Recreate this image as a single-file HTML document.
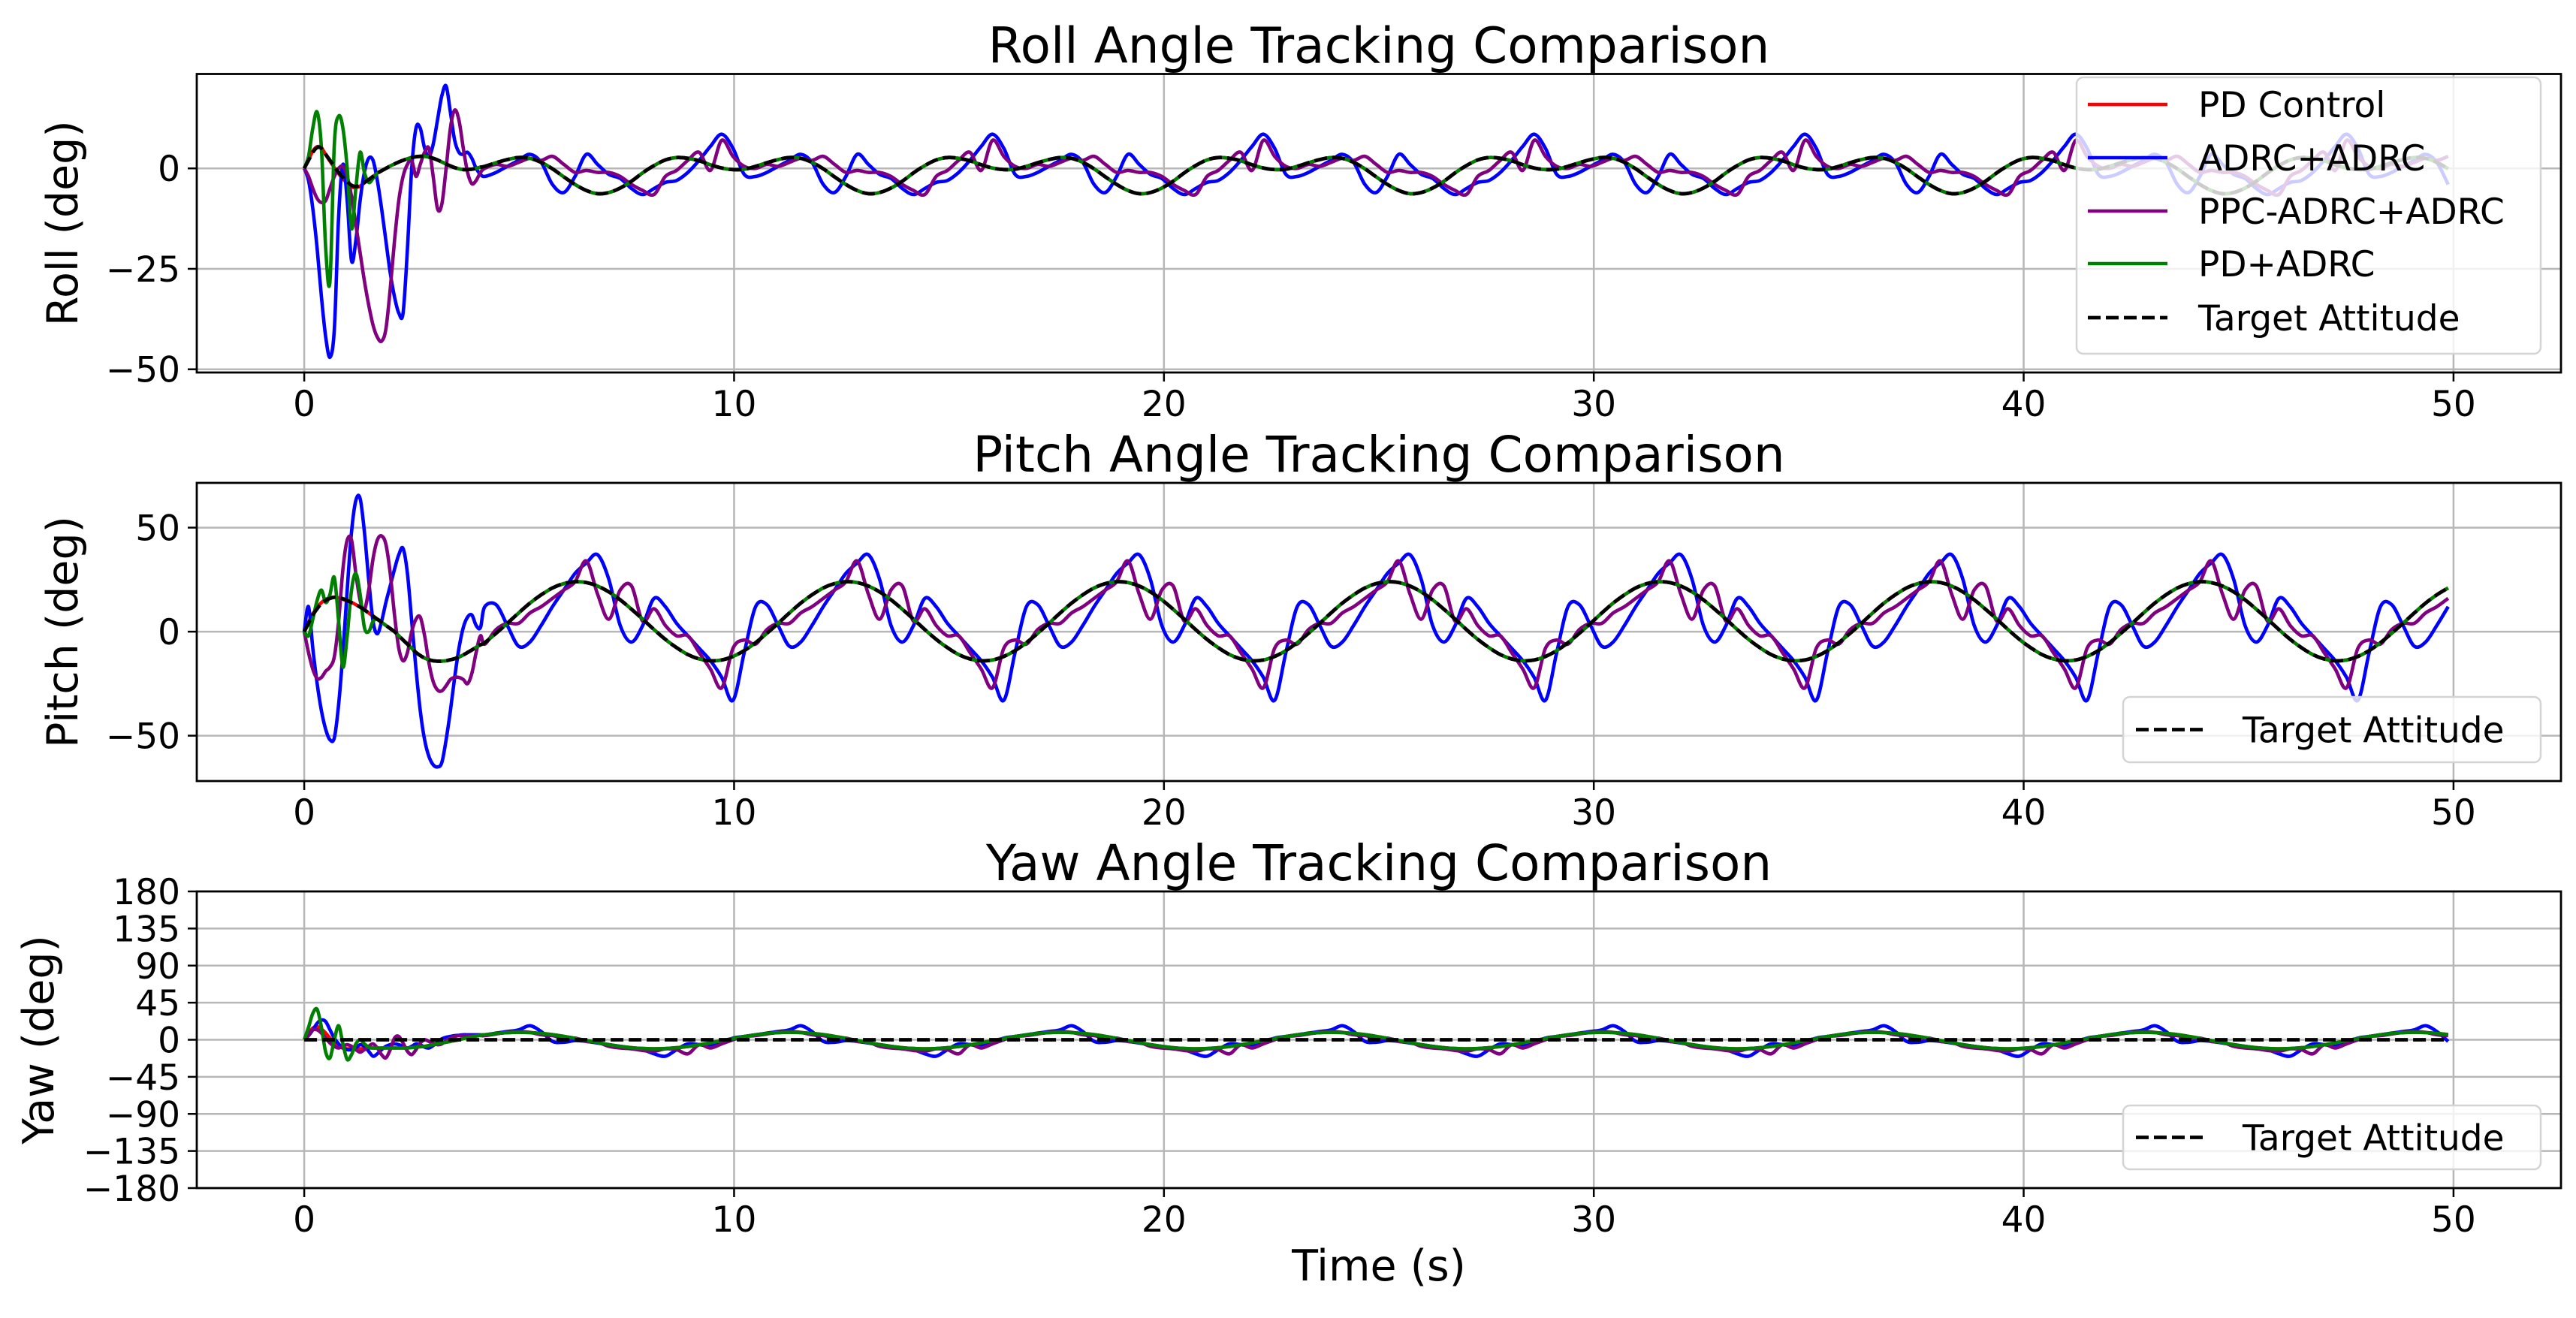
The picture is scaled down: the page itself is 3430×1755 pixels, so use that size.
<!DOCTYPE html>
<html><head><meta charset="utf-8"><title>Attitude Tracking Comparison</title>
<style>
html,body{margin:0;padding:0;background:#fff;}
svg{display:block;font-family:"DejaVu Sans","Liberation Sans",sans-serif;}
</style></head>
<body>
<svg id="fig" width="3430" height="1755" viewBox="0 0 3430 1755" xmlns="http://www.w3.org/2000/svg">
<rect x="0" y="0" width="3430" height="1755" fill="#fff"/>
</svg>
<script>
// ---------- data ----------
const xTicks = [0, 10, 20, 30, 40, 50];
const xTickLabels = ["0", "10", "20", "30", "40", "50"];
const rollYTicks = [-50, -25, 0];
const rollYTickLabels = ["\u221250", "\u221225", "0"];
const pitchYTicks = [-50, 0, 50];
const pitchYTickLabels = ["\u221250", "0", "50"];
const yawYTicks = [-180, -135, -90, -45, 0, 45, 90, 135, 180];
const yawYTickLabels = ["\u2212180", "\u2212135", "\u221290", "\u221245", "0", "45", "90", "135", "180"];
const seriesNames = ["PD Control", "ADRC+ADRC", "PPC-ADRC+ADRC", "PD+ADRC", "Target Attitude"];

// transient sample times (s)
const transientTimes = [0,0.1,0.2,0.3,0.4,0.5,0.6,0.7,0.8,0.9,1.0,1.1,1.2,1.3,1.4,1.5,1.6,1.7,1.8,1.9,2.0,2.1,2.2,2.3,2.4,2.5,2.6,2.7,2.8,2.9,3.0,3.1,3.2,3.3,3.4,3.5,3.6,3.7,3.8,3.9,4.0,4.1];
// steady-state: one period (6.3 s) sampled every 0.2625 s starting at 4.2 s
const steadyStart = 4.2;
const steadyStep = 0.2625;
const endTime = 50;

// ROLL
const rollTargetTransient = [0,2,4,5.2,5,3.5,2,0.5,-1,-2.2,-3.3,-4.2,-4.5,-4.2,-3.5,-2.8,-2,-1.2,-0.6,0,0.6,1.1,1.6,2,2.4,2.7,2.9,3,3,2.8,2.5,2.1,1.6,1.1,0.6,0.2,-0.1,-0.3,-0.3,-0.2,0,0.3];
const rollTargetPeriod = [0.5,1.4,2.2,2.7,2.5,1.5,-0.1,-2.1,-4.0,-5.5,-6.3,-6.0,-4.9,-3.2,-1.1,0.7,2.1,2.7,2.5,1.9,0.9,0.1,-0.3,-0.2];
const rollPdTransient = [0,2.2,4.3,5.4,5.1,3.4,1.8,0.2,-1.3,-2.6,-3.7,-4.6,-4.8,-4.4,-3.6,-2.8,-2,-1.2,-0.6,0,0.6,1.1,1.6,2,2.4,2.7,2.9,3,3,2.8,2.5,2.1,1.6,1.1,0.6,0.2,-0.1,-0.3,-0.3,-0.2,0,0.3];
const rollPdPeriod = [0.5,1.4,2.2,2.7,2.5,1.5,-0.1,-2.1,-4.0,-5.5,-6.3,-6.0,-4.9,-3.2,-1.1,0.7,2.1,2.7,2.5,1.9,0.9,0.1,-0.3,-0.2];
const rollAdrcTransient = [0,-3,-10,-20,-32,-42,-47,-40,-12,1,-8,-23,-18,-8,-1,2.5,2,-3,-10,-18,-26,-32,-36,-36,-20,0,10,10,5,3,6,12,18,20.5,14,7,4,3.5,4,2.5,0,-1.5];
const rollAdrcPeriod = [-2,-1,0.5,2,3.5,1.5,-4,-6,-2,3.5,1,-1.5,-2.5,-5,-6.5,-5,-3.5,-3,-1,2,5.5,8.5,5,-1.5];
const rollPpcTransient = [0,-2,-5,-7.5,-8.5,-8,-5,-2,0,0.5,-2,-7,-14,-21,-28,-34,-39,-42,-43,-40,-30,-18,-8,-2,1,2,-2,1,4,5,-2,-10,-9,0,10,14.5,12,5,-1,-3.8,-3,-1];
const rollPpcPeriod = [0,1,0.5,1.5,2.5,2,3,1,-1,-0.5,-1,-1,-2,-4,-5.5,-6.5,-2,-0.5,2,4,-0.5,7,3,0.5];
const rollPdAdrcTransient = [0,3,10,14,5,-20,-28,6,13,10,0,-15,-5,4,-1,-3.5,-2.5,-1.2,-0.6,0,0.6,1.1,1.6,2,2.4,2.7,2.9,3,3,2.8,2.5,2.1,1.6,1.1,0.6,0.2,-0.1,-0.3,-0.3,-0.2,0,0.3];
const rollPdAdrcPeriod = [0.5,1.4,2.2,2.7,2.5,1.5,-0.1,-2.1,-4.0,-5.5,-6.3,-6.0,-4.9,-3.2,-1.1,0.7,2.1,2.7,2.5,1.9,0.9,0.1,-0.3,-0.2];

// PITCH
const pitchTargetTransient = [0,4,8,11,13.5,15,16,16.5,16.3,15.8,15,14,13,11.8,10.5,9,7.5,6,4.5,3,1.5,0,-2,-4,-6,-8,-10,-11.5,-12.7,-13.5,-14,-14.2,-14.2,-14,-13.5,-13,-12.2,-11.2,-10,-8.8,-7.5,-6.3];
const pitchTargetPeriod = [-5.3,-0.8,4.0,9.0,13.7,17.7,21.0,23.1,24.0,23.6,21.9,19.1,15.3,10.8,6.0,1.0,-3.7,-7.7,-11.0,-13.1,-14.0,-13.6,-11.9,-9.1];
const pitchPdTransient = [0,4.5,8.5,11.5,14,15.5,16.3,16.6,16.2,15.6,14.8,14,13,11.8,10.5,9,7.5,6,4.5,3,1.5,0,-2,-4,-6,-8,-10,-11.5,-12.7,-13.5,-14,-14.2,-14.2,-14,-13.5,-13,-12.2,-11.2,-10,-8.8,-7.5,-6.3];
const pitchPdPeriod = [-5.3,-0.8,4.0,9.0,13.7,17.7,21.0,23.1,24.0,23.6,21.9,19.1,15.3,10.8,6.0,1.0,-3.7,-7.7,-11.0,-13.1,-14.0,-13.6,-11.9,-9.1];
const pitchAdrcTransient = [0,12,-8,-25,-38,-47,-52,-51,-35,-10,20,48,63,64,48,25,5,-1,5,14,22,30,37,40,28,5,-18,-38,-52,-60,-64,-65,-63,-52,-38,-22,-8,2,7,8,3,2];
const pitchAdrcPeriod = [12,13,3,-7,-5,3,12,20,28,33,37,25,3,-5,3,16,12,4,-2,-8,-14,-22,-33,-10];
const pitchPpcTransient = [0,-10,-18,-22.5,-22,-19,-17,-12,5,30,44,44,28,15,10.5,20,35,44,46,42,28,8,-8,-14,-10,0,6,7,-2,-15,-24,-28,-28.5,-26,-23,-22,-22,-23,-25,-20,-10,-2];
const pitchPpcPeriod = [-6,1,4,4,9,12,16,20,24,34,18,6,20,22,5,11,3,-2,-2,-10,-18,-27,-8,-4];
const pitchPdAdrcTransient = [0,-2,6,15,20,14,18,26,5,-17,-2,20,28,18,2,0,5,6,4.5,3,1.5,0,-2,-4,-6,-8,-10,-11.5,-12.7,-13.5,-14,-14.2,-14.2,-14,-13.5,-13,-12.2,-11.2,-10,-8.8,-7.5,-6.3];
const pitchPdAdrcPeriod = [-5.3,-0.8,4.0,9.0,13.7,17.7,21.0,23.1,24.0,23.6,21.9,19.1,15.3,10.8,6.0,1.0,-3.7,-7.7,-11.0,-13.1,-14.0,-13.6,-11.9,-9.1];

// YAW
const yawTargetTransient = [0,0,0,0,0,0,0,0,0,0,0,0,0,0,0,0,0,0,0,0,0,0,0,0,0,0,0,0,0,0,0,0,0,0,0,0,0,0,0,0,0,0];
const yawTargetPeriod = [0,0,0,0,0,0,0,0,0,0,0,0,0,0,0,0,0,0,0,0,0,0,0,0];
const yawPdTransient = [0,8,14,16,13,8,2,-4,-8,-10,-11,-11,-11,-11,-10.5,-10,-10,-10,-10,-10,-10,-10,-10,-10,-10,-9.5,-9,-8.5,-8,-7,-6,-5,-4,-3,-2,-1,0,1.5,2.5,3.5,4.5,5.5];
const yawPdPeriod = [6.0,7.6,8.6,9.0,8.7,7.7,6.2,4.1,1.7,-0.9,-3.5,-5.9,-8.0,-9.6,-10.6,-11,-10.7,-9.7,-8.2,-6.1,-3.7,-1.1,1.5,3.9];
const yawAdrcTransient = [0,5,12,20,24,22,12,2,-5,-10,-12,-12,-10,-6,-8,-14,-20,-17,-12,-8,-6,-5,-6,-8,-10,-8,-5,-6,-9,-10,-7,-3,1,3,4,5,5.5,6,6,6,6,6];
const yawAdrcPeriod = [6,8,10,12,17,10,-2,-3,-1,-2,-4,-6,-8,-10,-12,-17,-20,-12,-5,-6,-7,-3,2,4];
const yawPpcTransient = [0,6,12,12,8,2,-4,-8,-10,-8,-6,-8,-12,-15,-12,-8,-5,-10,-18,-22,-12,2,4,-4,-14,-18,-12,-4,0,-2,-4,-6,-5,-1,2,4,5,5,5,5,5,5];
const yawPpcPeriod = [5,7,9,10,9,6,5,2,2,-2,-3,-8,-10,-11,-13,-14,-11,-12,-17,-6,-10,-5,0,4];
const yawPdAdrcTransient = [0,15,32,37,15,-15,-22,0,17,-5,-24,-18,-5,0,-5,-9,-10,-10,-10,-10,-10,-10,-10,-10,-10,-9.5,-9,-8.5,-8,-7,-6,-5,-4,-3,-2,-1,0,1.5,2.5,3.5,4.5,5.5];
const yawPdAdrcPeriod = [6.0,7.6,8.6,9.0,8.7,7.7,6.2,4.1,1.7,-0.9,-3.5,-5.9,-8.0,-9.6,-10.6,-11,-10.7,-9.7,-8.2,-6.1,-3.7,-1.1,1.5,3.9];

// ---------- rendering ----------
const NS = "http://www.w3.org/2000/svg";
const svg = document.getElementById("fig");
const AX_LEFT = 262, AX_RIGHT = 3410, X_MIN = -2.5, X_MAX = 52.5;
function xScale(t){ return AX_LEFT + (t - X_MIN) / (X_MAX - X_MIN) * (AX_RIGHT - AX_LEFT); }

const times = transientTimes.slice();
for (let k = 0; steadyStart + k * steadyStep <= endTime + 1e-9; k++) times.push(steadyStart + k * steadyStep);
function buildSeries(trans, period){
  const out = trans.slice();
  const n = times.length - trans.length;
  for (let k = 0; k < n; k++) out.push(period[k % period.length]);
  return out;
}
function el(tag, attrs, parent){
  const e = document.createElementNS(NS, tag);
  for (const k in attrs) e.setAttribute(k, attrs[k]);
  (parent || svg).appendChild(e);
  return e;
}
function smoothPath(pts){
  let d = "M" + pts[0][0].toFixed(1) + "," + pts[0][1].toFixed(1);
  for (let i = 0; i < pts.length - 1; i++){
    const p0 = pts[Math.max(0, i - 1)], p1 = pts[i], p2 = pts[i + 1], p3 = pts[Math.min(pts.length - 1, i + 2)];
    const c1x = p1[0] + (p2[0] - p0[0]) / 6, c1y = p1[1] + (p2[1] - p0[1]) / 6;
    const c2x = p2[0] - (p3[0] - p1[0]) / 6, c2y = p2[1] - (p3[1] - p1[1]) / 6;
    d += "C" + c1x.toFixed(1) + "," + c1y.toFixed(1) + " " + c2x.toFixed(1) + "," + c2y.toFixed(1) + " " + p2[0].toFixed(1) + "," + p2[1].toFixed(1);
  }
  return d;
}

const panels = [
  {key:"roll", title:"Roll Angle Tracking Comparison", ylabel:"Roll (deg)", top:98.5, bottom:496, ymin:-50.8, ymax:23.5,
   yticks:rollYTicks, ylabels:rollYTickLabels, ylabelX:84,
   series:[[rollPdTransient,rollPdPeriod],[rollAdrcTransient,rollAdrcPeriod],[rollPpcTransient,rollPpcPeriod],[rollPdAdrcTransient,rollPdAdrcPeriod],[rollTargetTransient,rollTargetPeriod]],
   legend:"full"},
  {key:"pitch", title:"Pitch Angle Tracking Comparison", ylabel:"Pitch (deg)", top:643, bottom:1040, ymin:-71.8, ymax:71.5,
   yticks:pitchYTicks, ylabels:pitchYTickLabels, ylabelX:84,
   series:[[pitchPdTransient,pitchPdPeriod],[pitchAdrcTransient,pitchAdrcPeriod],[pitchPpcTransient,pitchPpcPeriod],[pitchPdAdrcTransient,pitchPdAdrcPeriod],[pitchTargetTransient,pitchTargetPeriod]],
   legend:"target", legTop:928, legBottom:1015},
  {key:"yaw", title:"Yaw Angle Tracking Comparison", ylabel:"Yaw (deg)", top:1187, bottom:1582, ymin:-180, ymax:180,
   yticks:yawYTicks, ylabels:yawYTickLabels, ylabelX:52,
   series:[[yawPdTransient,yawPdPeriod],[yawAdrcTransient,yawAdrcPeriod],[yawPpcTransient,yawPpcPeriod],[yawPdAdrcTransient,yawPdAdrcPeriod],[yawTargetTransient,yawTargetPeriod]],
   legend:"target", legTop:1472, legBottom:1557}
];
const colors = ["#ff0000", "#0000ff", "#800080", "#008000", "#000000"];
const seriesKeys = ["pd-control", "adrc-adrc", "ppc-adrc-adrc", "pd-adrc", "target-attitude"];
const drawOrder = [0, 1, 2, 3, 4];
const LW = 4.6, LW_DASH = 4.8;

panels.forEach(function(p){
  const yScale = function(v){ return p.bottom - (v - p.ymin) / (p.ymax - p.ymin) * (p.bottom - p.top); };
  const g = el("g", {});
  
  
  const clipId = "clip-" + p.key;
  const cp = el("clipPath", {id: clipId}, g);
  el("rect", {x: AX_LEFT, y: p.top, width: AX_RIGHT - AX_LEFT, height: p.bottom - p.top}, cp);

  const grid = el("g", {stroke: "#b0b0b0", "stroke-width": 2.5, opacity: 0.9}, g);
  
  
  xTicks.forEach(function(t){
    const gl = el("line", {x1: xScale(t), x2: xScale(t), y1: p.top, y2: p.bottom}, grid);
    
    
  });
  p.yticks.forEach(function(v){
    const gl = el("line", {x1: AX_LEFT, x2: AX_RIGHT, y1: yScale(v), y2: yScale(v)}, grid);
    
    
  });

  const sg = el("g", {"clip-path": "url(#" + clipId + ")", fill: "none", "stroke-linejoin": "round"}, g);
  
  
  drawOrder.forEach(function(i){
    const vals = buildSeries(p.series[i][0], p.series[i][1]);
    const pts = times.map(function(t, k){ return [xScale(t), yScale(vals[k])]; });
    const path = el("path", {d: smoothPath(pts), stroke: colors[i], "stroke-width": i === 4 ? LW_DASH : LW}, sg);
    if (i === 4) path.setAttribute("stroke-dasharray", "17 7");
    
    
  });

  const frame = el("rect", {x: AX_LEFT, y: p.top, width: AX_RIGHT - AX_LEFT, height: p.bottom - p.top, fill: "none", stroke: "#000", "stroke-width": 2.8}, g);
  
  

  xTicks.forEach(function(t, i){
    const tk = el("line", {x1: xScale(t), x2: xScale(t), y1: p.bottom, y2: p.bottom + 12, stroke: "#000", "stroke-width": 2.5}, g);
    
    
    const tl = el("text", {x: xScale(t), y: p.bottom + 58, "font-size": 47, "text-anchor": "middle", fill: "#000"}, g);
    tl.textContent = xTickLabels[i];
    
    
  });
  p.yticks.forEach(function(v, i){
    const tk = el("line", {x1: AX_LEFT - 12, x2: AX_LEFT, y1: yScale(v), y2: yScale(v), stroke: "#000", "stroke-width": 2.5}, g);
    
    
    const tl = el("text", {x: AX_LEFT - 22, y: yScale(v) + 17, "font-size": 47, "text-anchor": "end", fill: "#000"}, g);
    tl.textContent = p.ylabels[i];
    
    
  });
  const tt = el("text", {x: (AX_LEFT + AX_RIGHT) / 2, y: p.top - 15, "font-size": 66, "text-anchor": "middle", fill: "#000"}, g);
  tt.textContent = p.title;
  
  
  const cy = (p.top + p.bottom) / 2;
  const yl = el("text", {x: p.ylabelX, y: cy, "font-size": 57, "text-anchor": "middle", "dominant-baseline": "central", fill: "#000", transform: "rotate(-90 " + p.ylabelX + " " + cy + ")"}, g);
  yl.textContent = p.ylabel;
  
  

  const lg = el("g", {}, g);
  
  
  if (p.legend === "full"){
    const box = el("rect", {x: 2765, y: 103, width: 618, height: 368, rx: 9, fill: "rgba(255,255,255,0.8)", stroke: "#d4d4d4", "stroke-width": 2.5}, lg);
    
    
    const rowsY = [139, 210, 281, 351, 423];
    seriesNames.forEach(function(nm, i){
      const ent = el("g", {}, lg);
      
      
      const ln = el("line", {x1: 2780, x2: 2886, y1: rowsY[i], y2: rowsY[i], stroke: colors[i], "stroke-width": i === 4 ? LW_DASH : LW}, ent);
      if (i === 4) ln.setAttribute("stroke-dasharray", "17 7");
      
      
      const tx = el("text", {x: 2927, y: rowsY[i] + 17, "font-size": 47, fill: "#000"}, ent);
      tx.textContent = nm;
      
      
    });
  } else {
    const box = el("rect", {x: 2827, y: p.legTop, width: 556, height: p.legBottom - p.legTop, rx: 9, fill: "rgba(255,255,255,0.8)", stroke: "#d4d4d4", "stroke-width": 2.5}, lg);
    
    
    const my = (p.legTop + p.legBottom) / 2;
    const ln = el("line", {x1: 2844, x2: 2938, y1: my, y2: my, stroke: "#000", "stroke-width": LW_DASH, "stroke-dasharray": "17 7"}, lg);
    
    
    const tx = el("text", {x: 2986, y: my + 17, "font-size": 47, fill: "#000"}, lg);
    tx.textContent = seriesNames[4];
    
    
  }
});

const xt = el("text", {x: (AX_LEFT + AX_RIGHT) / 2, y: 1705, "font-size": 57, "text-anchor": "middle", fill: "#000"});
xt.textContent = "Time (s)";


</script>
</body></html>
